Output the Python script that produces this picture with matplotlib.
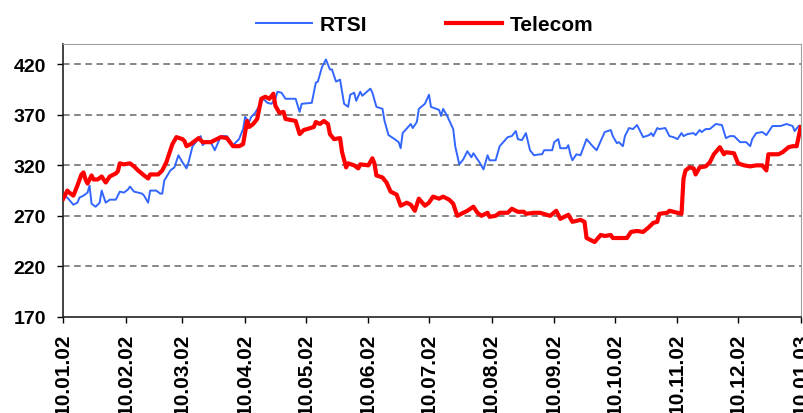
import numpy as np
import matplotlib
matplotlib.use("Agg")
import matplotlib.pyplot as plt
import matplotlib.dates as mdates

plt.rcParams['font.family'] = ['Liberation Sans', 'DejaVu Sans']

# days counted from 10.01.2002
rtsi_days = [0, 2, 5, 7, 8, 10, 12, 13, 14, 16, 18, 19, 21, 23, 26, 28, 30, 32, 33, 35,
             39, 40, 42, 43, 46, 48, 49, 50, 53, 55, 57, 59, 61, 62, 64, 66, 68, 69, 71, 73,
             75, 78, 81, 84, 87, 89, 90, 92, 93, 95, 97, 99, 101, 103, 105, 106, 108, 110, 115, 117,
             118, 123, 125, 126, 128, 130, 132, 133, 135, 137, 139, 141, 142, 144, 145, 147, 148, 152, 153, 155,
             158, 159, 161, 164, 166, 167, 168, 172, 173, 175, 176, 179, 181, 182, 186, 187, 188, 190, 193, 194,
             196, 198, 200, 202, 203, 206, 208, 210, 211, 214, 216, 220, 222, 224, 225, 227, 229, 231, 233, 236,
             237, 238, 242, 243, 245, 246, 249, 250, 251, 252, 254, 256, 259, 262, 264, 266, 268, 271, 272, 274,
             275, 277, 278, 280, 282, 284, 285, 287, 290, 291, 292, 294, 295, 298, 300, 302, 304, 306, 307, 309,
             312, 313, 315, 316, 318, 320, 323, 326, 328, 330, 332, 335, 338, 340, 341, 343, 346, 348, 351, 355,
             358, 361, 362, 364, 365]
rtsi = [290, 288, 281, 283, 288, 290, 293, 300, 282, 279, 283, 295, 283, 286, 286, 294, 293, 296, 299, 294,
        292, 290, 283, 295, 295, 292, 292, 305, 315, 318, 330, 323, 317, 323, 339, 344, 349, 340, 344, 343,
        335, 349, 349, 340, 346, 356, 368, 363, 368, 372, 379, 386, 382, 381, 386, 393, 392, 386, 386, 373,
        381, 382, 402, 403, 417, 425, 415, 415, 403, 405, 381, 378, 390, 392, 384, 393, 389, 396, 392, 378,
        376, 364, 350, 346, 343, 337, 352, 361, 357, 363, 376, 381, 390, 378, 375, 369, 376, 369, 356, 339,
        321, 326, 334, 328, 332, 323, 316, 330, 325, 325, 339, 348, 349, 354, 346, 345, 352, 335, 330, 331,
        331, 335, 335, 343, 346, 337, 337, 340, 331, 325, 331, 330, 346, 339, 335, 344, 353, 355, 349, 342,
        343, 339, 349, 357, 356, 360, 356, 348, 350, 352, 349, 357, 356, 357, 349, 348, 346, 352, 349, 351,
        352, 350, 355, 353, 356, 356, 361, 360, 347, 349, 349, 343, 343, 339, 346, 352, 353, 350, 359, 359,
        361, 359, 354, 359, 358]

telecom_days = [0, 2, 3, 5, 6, 7, 9, 10, 11, 12, 14, 15, 17, 19, 21, 23, 26, 27, 28, 30,
                33, 35, 37, 40, 42, 43, 47, 49, 51, 53, 54, 56, 59, 60, 61, 63, 65, 67, 69, 71,
                73, 76, 78, 81, 84, 87, 89, 91, 92, 94, 96, 98, 100, 102, 104, 105, 107, 109, 110, 115,
                117, 119, 124, 125, 127, 129, 131, 132, 134, 137, 138, 140, 141, 144, 146, 147, 151, 153, 154, 155,
                158, 160, 162, 165, 167, 170, 172, 174, 176, 179, 181, 183, 186, 188, 191, 193, 195, 198, 200, 203,
                205, 207, 210, 211, 214, 216, 220, 222, 225, 228, 229, 233, 236, 241, 244, 246, 248, 250, 252, 256,
                258, 259, 261, 263, 266, 268, 271, 272, 279, 281, 284, 287, 290, 292, 294, 295, 299, 300, 304, 306,
                307, 308, 310, 312, 313, 315, 318, 320, 322, 325, 327, 328, 332, 334, 337, 340, 343, 346, 348, 349,
                354, 356, 359, 361, 363, 365]
telecom = [287, 295, 293, 290, 295, 300, 311, 313, 306, 302, 310, 306, 306, 309, 303, 309, 312, 314, 322, 321,
           322, 319, 315, 310, 307, 311, 311, 315, 323, 335, 341, 348, 346, 344, 339, 341, 344, 347, 343, 343,
           343, 346, 348, 347, 339, 339, 341, 364, 358, 361, 366, 386, 388, 386, 391, 379, 372, 373, 366, 364,
           351, 355, 358, 363, 361, 364, 361, 351, 346, 347, 333, 318, 322, 320, 317, 321, 320, 327, 322, 310,
           308, 303, 294, 291, 280, 283, 281, 275, 287, 280, 283, 289, 287, 289, 286, 282, 270, 273, 275, 279,
           273, 270, 273, 269, 270, 273, 273, 277, 274, 274, 272, 273, 273, 270, 275, 267, 269, 271, 264, 266,
           264, 248, 246, 244, 251, 250, 251, 248, 248, 254, 255, 254, 259, 263, 264, 272, 273, 275, 273, 272,
           307, 315, 318, 317, 311, 318, 319, 323, 331, 338, 331, 333, 332, 322, 320, 319, 320, 320, 315, 331,
           331, 333, 338, 339, 339, 358]

y_ticks = [170, 220, 270, 320, 370, 420]
start = np.datetime64('2002-01-10')
x_ticks = [np.datetime64('2002-%02d-10' % m) for m in range(1, 13)] + [np.datetime64('2003-01-10')]

rtsi_dates = start + np.array(rtsi_days, dtype='timedelta64[D]')
telecom_dates = start + np.array(telecom_days, dtype='timedelta64[D]')

fig = plt.figure(figsize=(8.04, 4.14), dpi=100)
ax = fig.add_axes([0.0787, 0.2326, 0.9172, 0.658])

ax.plot(rtsi_dates, rtsi, color='#3366ff', lw=1.4, label='RTSI', zorder=3)
ax.plot(telecom_dates, telecom, color='#ff0000', lw=3.0, label='Telecom', zorder=4,
        solid_joinstyle='round')

ax.set_ylim(170, 440)
ax.set_yticks(y_ticks)
ax.set_xlim(x_ticks[0], x_ticks[-1])
ax.set_xticks(x_ticks)
ax.xaxis.set_major_formatter(mdates.DateFormatter('%d.%m.%y'))

# dashed horizontal gridlines
for v in y_ticks[1:]:
    ax.axhline(v, color='#666666', lw=1.1, dashes=(4.3, 3.0), zorder=1)

for lab in ax.get_yticklabels():
    lab.set_fontweight('bold')
    lab.set_fontsize(14)
for lab in ax.get_xticklabels():
    lab.set_fontweight('bold')
    lab.set_fontsize(15)
    lab.set_rotation(90)
    lab.set_va('top')

ax.tick_params(axis='y', direction='out', length=4.5, width=1, pad=8)
ax.tick_params(axis='x', direction='out', length=4.5, width=1, pad=7)

ax.spines['left'].set_color('#222222')
ax.spines['bottom'].set_color('#222222')
ax.spines['left'].set_linewidth(1.2)
ax.spines['bottom'].set_linewidth(1.2)
ax.spines['top'].set_color('#a0a0a0')
ax.spines['right'].set_color('#a0a0a0')

fig.legend(loc='center', bbox_to_anchor=(0.528, 0.938), ncol=2, frameon=False,
           prop={'weight': 'bold', 'size': 15}, handlelength=2.7, handletextpad=0.35,
           columnspacing=3.8)

fig.savefig('out.png', dpi=100)
